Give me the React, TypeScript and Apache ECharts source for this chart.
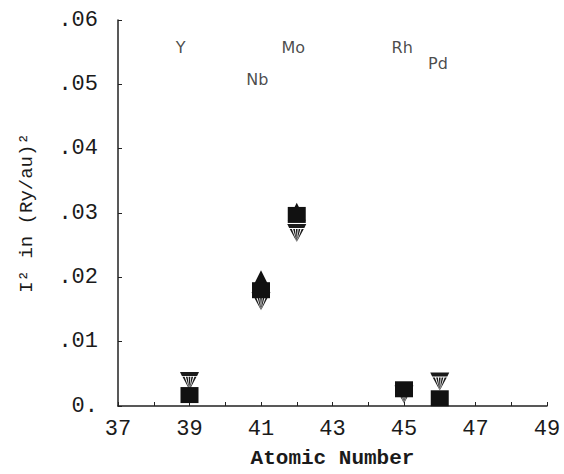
import React, { useEffect, useRef } from "react";
import * as echarts from "echarts";

// Atomic number of each element shown
const atomicNumbers = [39, 41, 42, 45, 46];
const elements = ["Y", "Nb", "Mo", "Rh", "Pd"];
// I^2 values (Ry/au)^2
const squareValues = [0.0017, 0.018, 0.0297, 0.0026, 0.0012];
const downTriangleValues = [0.0039, 0.0163, 0.0269, 0.0018, 0.0038];
const upTriangleValues: (number | null)[] = [null, 0.0197, 0.0302, null, null];
// element label anchors (data coordinates)
const labelXs = [38.75, 40.9, 41.9, 44.95, 45.95];
const labelYs = [0.0557, 0.0508, 0.0557, 0.0557, 0.0533];
// axis ranges
const xMin = 37;
const xMax = 49;
const yMin = 0;
const yMax = 0.06;

const hatchedDown =
  "path://M0,0 L20,0 L18,4.5 L2,4.5 Z M2.6,5.5 L4.8,5.5 L10,20 Z M6.2,5.5 L8,5.5 L10,20 Z M9.1,5.5 L10.9,5.5 L10,20 Z M12,5.5 L13.8,5.5 L10,20 Z M15.2,5.5 L17.4,5.5 L10,20 Z";

const mono = "Liberation Mono";

export default function App() {
  const ref = useRef<HTMLDivElement>(null);
  useEffect(() => {
    if (!ref.current) return;
    const chart = echarts.init(ref.current, undefined, { renderer: "svg" });
    const pair = (vals: (number | null)[]) =>
      atomicNumbers.map((x, i) => (vals[i] == null ? null : [x, vals[i]])).filter((d) => d);
    chart.setOption({
      animation: false,
      backgroundColor: "#ffffff",
      grid: { left: 118, right: 17, top: 20, bottom: 61, containLabel: false },
      xAxis: {
        type: "value",
        min: xMin,
        max: xMax,
        interval: 1,
        name: "Atomic Number",
        nameLocation: "middle",
        nameGap: 42,
        nameTextStyle: { fontFamily: mono, fontSize: 21, fontWeight: "bold", color: "#1a1a1a" },
        axisLine: { lineStyle: { color: "#222", width: 1.5 } },
        axisTick: { inside: true, length: 4, lineStyle: { color: "#222" } },
        axisLabel: {
          margin: 12,
          fontFamily: mono,
          fontSize: 22,
          color: "#1a1a1a",
          formatter: (v: number) => (Math.round(v) % 2 === 1 ? String(Math.round(v)) : ""),
        },
        splitLine: { show: false },
      },
      yAxis: {
        type: "value",
        min: yMin,
        max: yMax,
        interval: 0.01,
        name: "I\u00b2 in (Ry/au)\u00b2",
        nameLocation: "middle",
        nameGap: 82,
        nameTextStyle: { fontFamily: mono, fontSize: 19, color: "#1a1a1a" },
        axisLine: { show: true, lineStyle: { color: "#222", width: 1.5 } },
        axisTick: { show: true, inside: true, length: 4, lineStyle: { color: "#222" } },
        axisLabel: {
          margin: 20,
          fontFamily: mono,
          fontSize: 22,
          color: "#1a1a1a",
          formatter: (v: number) => (v === 0 ? "0." : "." + String(Math.round(v * 100)).padStart(2, "0")),
        },
        splitLine: { show: false },
      },
      series: [
        {
          type: "scatter",
          symbol: "triangle",
          symbolSize: 18,
          itemStyle: { color: "#111", opacity: 1 },
          data: pair(upTriangleValues),
        },
        {
          type: "scatter",
          symbol: hatchedDown,
          symbolSize: [19, 18],
          itemStyle: { color: "#1a1a1a", opacity: 1 },
          data: pair(downTriangleValues),
        },
        {
          type: "scatter",
          symbol: "rect",
          symbolSize: [18, 16],
          itemStyle: { color: "#111", opacity: 1 },
          data: pair(squareValues),
        },
        {
          type: "scatter",
          symbol: "circle",
          symbolSize: 1,
          itemStyle: { color: "rgba(0,0,0,0)" },
          label: {
            show: true,
            position: "inside",
            fontFamily: "DejaVu Sans",
            fontSize: 16,
            color: "#1a1a1a",
            formatter: (p: any) => elements[p.dataIndex],
          },
          data: labelXs.map((x, i) => [x, labelYs[i]]),
        },
      ],
    });
    return () => chart.dispose();
  }, []);
  return (
    <div
      ref={ref}
      style={{ position: "fixed", left: 0, top: 0, width: 564, height: 474 }}
    />
  );
}
